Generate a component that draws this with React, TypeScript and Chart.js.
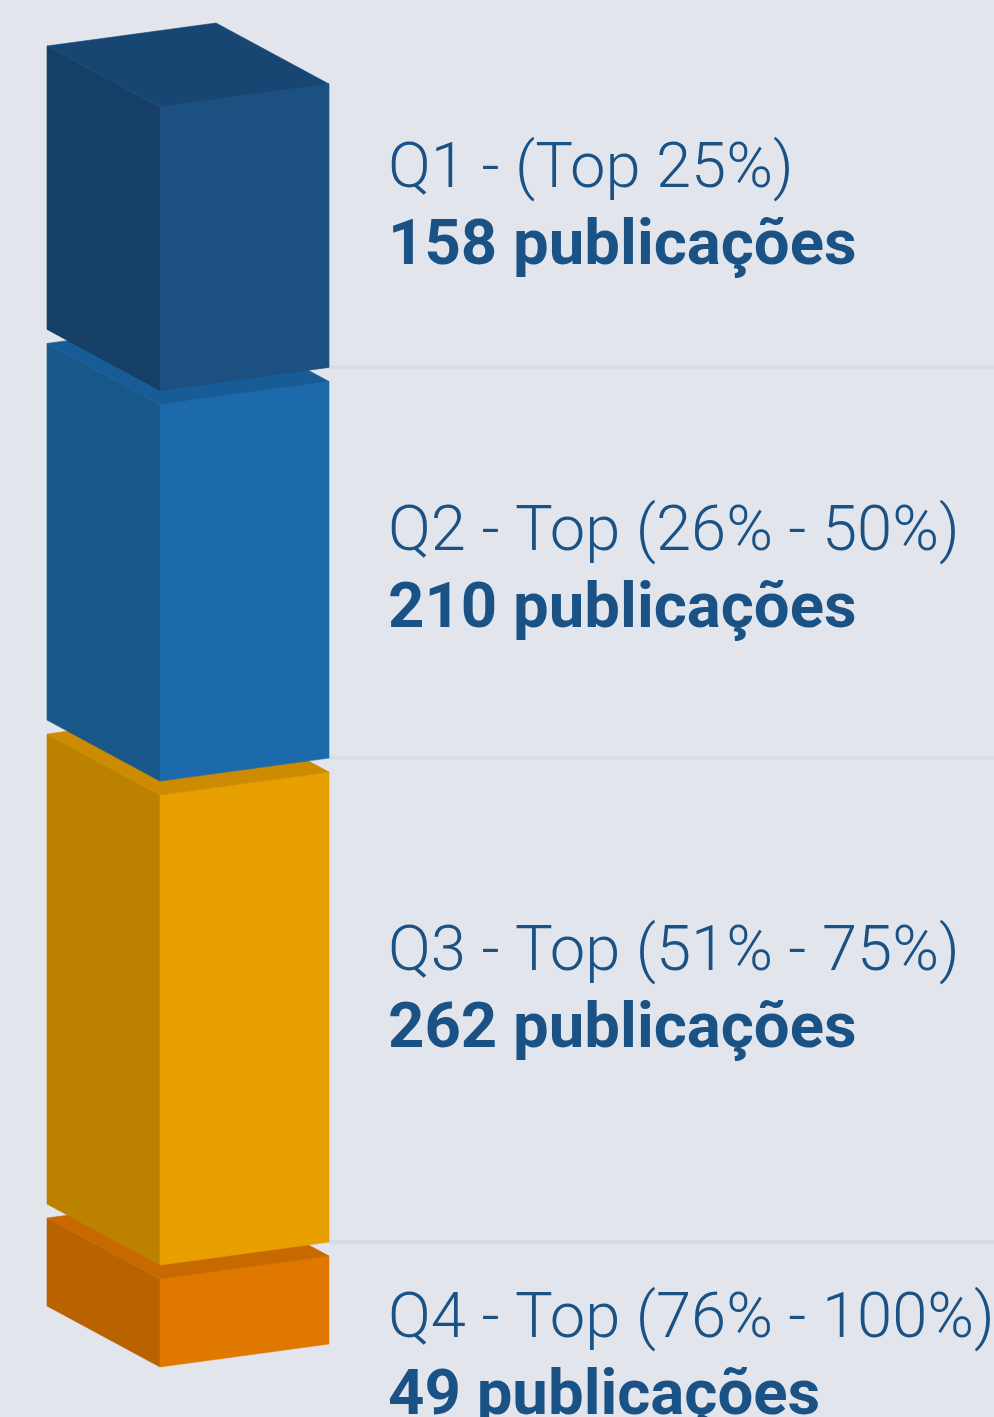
import React, { useEffect, useRef } from 'react';
import { Chart, registerables } from 'chart.js';

Chart.register(...registerables);

// ---- data (top segment first) ----
const categories = ['Q1 - (Top 25%)', 'Q2 - Top (26% - 50%)', 'Q3 - Top (51% - 75%)', 'Q4 - Top (76% - 100%)'];
const values = [158, 210, 262, 49];
const unitLabel = 'publicações';

// ---- styles ----
const frontColors = ['#1b5080', '#1c6aab', '#e8a000', '#e07800'];
const sideColors = ['#153f67', '#175789', '#bd8100', '#b86200'];
const topColors = ['#174673', '#185c97', '#cc8b00', '#c86900'];
const BG = '#e2e6ec';
const TEXT = '#1a5286';
const SEP = '#d3dde9';
const W = 994;
const H = 1417;
const GAP = 14;
const DEPTH_X = 113;
const DEPTH_Y = 61;
const SKEW = 23;
const LABEL_X = 388;
const LABEL_Y = [187, 550, 970, 1337];
const LINE_GAP = 77;

const box3d = {
  id: 'box3d',
  beforeDraw(chart: any) {
    const ctx = chart.ctx;
    ctx.save();
    ctx.fillStyle = BG;
    ctx.fillRect(0, 0, chart.width, chart.height);
    ctx.restore();
  },
  afterDatasetsDraw(chart: any) {
    const ctx = chart.ctx;
    const n = chart.data.datasets.length;
    const segs: any[] = [];
    for (let k = 0; k < n; k++) {
      const el = chart.getDatasetMeta(k).data[0] as any;
      const p = el.getProps(['x', 'y', 'base', 'width'], true);
      const shift = k * GAP;
      segs.push({
        idx: n - 1 - k,
        L: p.x - p.width / 2,
        R: p.x + p.width / 2,
        t: Math.min(p.y, p.base) - shift,
        b: Math.max(p.y, p.base) - shift,
      });
    }
    ctx.save();
    // separator lines
    segs.forEach((s) => {
      if (s.idx < n - 1) {
        ctx.fillStyle = SEP;
        ctx.fillRect(s.R, s.b - SKEW - 2, W - s.R, 3.5);
      }
    });
    const poly = (pts: number[][], color: string) => {
      ctx.beginPath();
      ctx.moveTo(pts[0][0], pts[0][1]);
      for (let i = 1; i < pts.length; i++) ctx.lineTo(pts[i][0], pts[i][1]);
      ctx.closePath();
      ctx.fillStyle = color;
      ctx.fill();
      ctx.strokeStyle = color;
      ctx.lineWidth = 0.6;
      ctx.stroke();
    };
    // boxes, bottom first
    segs.forEach((s) => {
      const { L, R, t, b, idx } = s;
      const F = L + DEPTH_X;
      poly([[L, b - DEPTH_Y], [F, b], [F, t], [L, t - DEPTH_Y]], sideColors[idx]);
      poly([[F, b], [R, b - SKEW], [R, t - SKEW], [F, t]], frontColors[idx]);
      poly([[L, t - DEPTH_Y], [F, t], [R, t - SKEW], [R - DEPTH_X, t - SKEW - DEPTH_Y]], topColors[idx]);
    });
    // labels
    ctx.fillStyle = TEXT;
    ctx.textAlign = 'left';
    ctx.textBaseline = 'alphabetic';
    for (let i = 0; i < n; i++) {
      ctx.font = '300 63.3px Roboto';
      ctx.fillText(categories[i], LABEL_X, LABEL_Y[i]);
      ctx.font = 'bold 63.5px Roboto';
      ctx.fillText(`${values[i]} ${unitLabel}`, LABEL_X, LABEL_Y[i] + LINE_GAP);
    }
    ctx.restore();
  },
};

export default function App() {
  const ref = useRef<HTMLCanvasElement | null>(null);
  useEffect(() => {
    document.body.style.margin = '0';
    document.body.style.background = BG;
    if (!ref.current) return;
    const total = values.reduce((a, b) => a + b, 0);
    const order = values.map((_, i) => i).reverse();
    const chart = new Chart(ref.current, {
      type: 'bar',
      data: {
        labels: [''],
        datasets: order.map((i) => ({
          label: categories[i],
          data: [values[i]],
          backgroundColor: 'rgba(0,0,0,0)',
          borderWidth: 0,
          barPercentage: 1,
          categoryPercentage: 1,
        })),
      },
      options: {
        responsive: false,
        animation: false,
        layout: { padding: { top: 149, bottom: 50, left: 47, right: 665 } },
        scales: {
          x: { display: false, stacked: true },
          y: { display: false, stacked: true, min: 0, max: total },
        },
        plugins: { legend: { display: false }, tooltip: { enabled: false } },
      },
      plugins: [box3d],
    });
    return () => chart.destroy();
  }, []);
  return (
    <div style={{ width: W, height: H }}>
      <canvas ref={ref} width={W} height={H} style={{ display: 'block' }} />
    </div>
  );
}
